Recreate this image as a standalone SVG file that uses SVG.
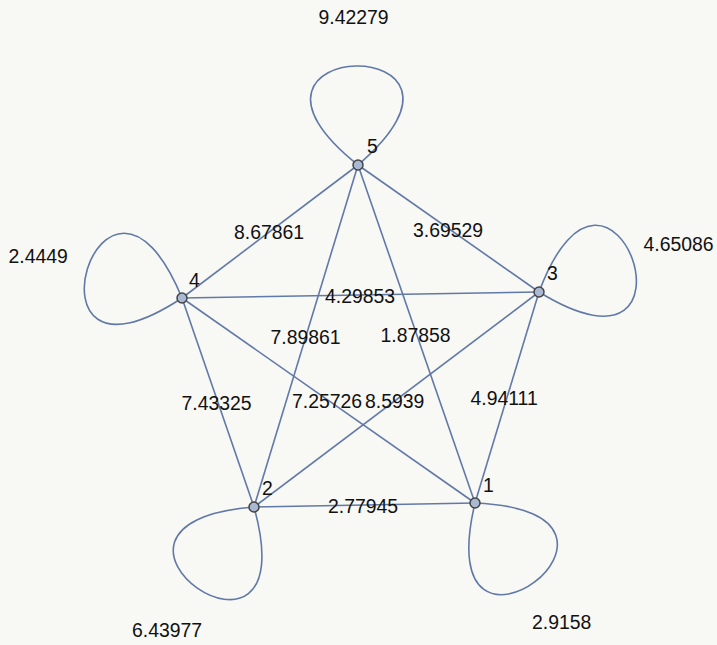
<svg xmlns="http://www.w3.org/2000/svg" width="717" height="645" viewBox="0 0 717 645">
<style>
.e{fill:none;stroke:#6179a8;stroke-width:1.6}
.n{fill:#aab9d3;stroke:#444;stroke-width:1.5}
text{font-family:"Liberation Sans",Arial,sans-serif;font-size:19.4px;fill:#111}
</style>
<rect width="717" height="645" fill="#f8f8f4"/>
<g id="connectors">
<line class="e" x1="358" y1="165" x2="182" y2="298"/>
<line class="e" x1="358" y1="165" x2="539" y2="292"/>
<line class="e" x1="182" y1="298" x2="539" y2="292"/>
<line class="e" x1="358" y1="165" x2="254" y2="507"/>
<line class="e" x1="358" y1="165" x2="475" y2="503"/>
<line class="e" x1="182" y1="298" x2="254" y2="507"/>
<line class="e" x1="182" y1="298" x2="475" y2="503"/>
<line class="e" x1="539" y1="292" x2="254" y2="507"/>
<line class="e" x1="539" y1="292" x2="475" y2="503"/>
<line class="e" x1="254" y1="507" x2="475" y2="503"/>
<path class="e" d="M475,503 C426.9,704.8 682.3,511.8 475,503"/>
<path class="e" d="M254,507 C47.2,523.5 309.6,706.9 254,507"/>
<path class="e" d="M539,292 C715.8,400.5 611.8,97.7 539,292"/>
<path class="e" d="M182,298 C102.7,106.3 8.9,412.3 182,298"/>
<path class="e" d="M358,165 C515.5,30 195.5,36 358,165"/>
<text x="234" y="239">8.67861</text>
<text x="413" y="237">3.69529</text>
<text x="325" y="303">4.29853</text>
<text x="270.5" y="344">7.89861</text>
<text x="380.5" y="342">1.87858</text>
<text x="181.5" y="410">7.43325</text>
<text x="292" y="408">7.25726</text>
<text x="365" y="408">8.5939</text>
<text x="470.5" y="405">4.94111</text>
<text x="328" y="513">2.77945</text>
<text x="318.5" y="24">9.42279</text>
<text x="643.5" y="251">4.65086</text>
<text x="8.5" y="263">2.4449</text>
<text x="132" y="637">6.43977</text>
<text x="532" y="629">2.9158</text>
</g>
<g id="node1"><circle class="n" cx="475" cy="503" r="5"/><text x="483" y="492">1</text></g>
<g id="node2"><circle class="n" cx="254" cy="507" r="5"/><text x="262" y="495">2</text></g>
<g id="node3"><circle class="n" cx="539" cy="292" r="5"/><text x="547" y="280">3</text></g>
<g id="node4"><circle class="n" cx="182" cy="298" r="5"/><text x="189" y="287">4</text></g>
<g id="node5"><circle class="n" cx="358" cy="165" r="5"/><text x="367" y="153">5</text></g>
</svg>
